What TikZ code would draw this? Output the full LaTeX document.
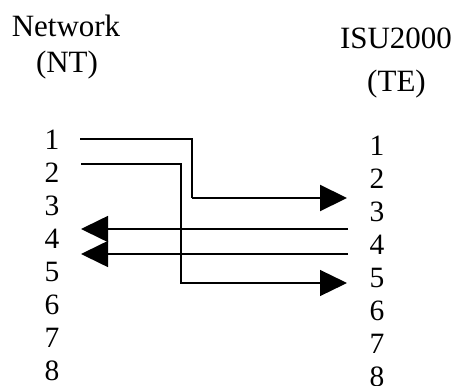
\documentclass[tikz,border=0pt]{standalone}
\usepackage{fontspec}
\setmainfont{Liberation Serif}
\usetikzlibrary{arrows.meta}
\begin{document}
\begin{tikzpicture}[x=1pt,y=-1pt,
  title/.style={inner sep=0pt,anchor=base,font=\fontsize{31}{31}\selectfont},
  pin/.style={inner sep=0pt,anchor=base,font=\fontsize{29.5}{29.5}\selectfont},
  wire/.style={line width=1.3pt},
  tip/.style={-{Triangle[length=27pt,width=26pt]}}]
\useasboundingbox (0,0) rectangle (457,385);
% titles
\node[title] (nw) at (66,37) {Network};
\node[title] (nt) at (67,73) {(NT)};
\node[title] (isu) at (396,49) {ISU2000};
\node[title] (te) at (396.5,92) {(TE)};
% pin numbers
\foreach \i in {1,...,8}{
  \node[pin] (L\i) at (52,{149+33*(\i-1)}) {\i};
  \node[pin] (R\i) at (377,{155+33*(\i-1)}) {\i};
}
% wire endpoints
\coordinate (a1) at (80,139);
\coordinate (a2) at (192,139);
\coordinate (a3) at (192,198);
\coordinate (a4) at (347,198);
\coordinate (b1) at (81,164);
\coordinate (b2) at (181,164);
\coordinate (b3) at (181,283);
\coordinate (b4) at (347,283);
\coordinate (c1) at (348,229);
\coordinate (c2) at (81,229);
\coordinate (d1) at (348,254);
\coordinate (d2) at (81,254);
% wires
\draw[wire] (a1) -- (a2) -- (a3);
\draw[wire,line width=2.2pt,tip] (a3) -- (a4);
\draw[wire,tip] (b1) -- (b2) -- (b3) -- (b4);
\draw[wire,line width=1.6pt,tip] (c1) -- (c2);
\draw[wire,line width=1.6pt,tip] (d1) -- (d2);
\end{tikzpicture}
\end{document}
